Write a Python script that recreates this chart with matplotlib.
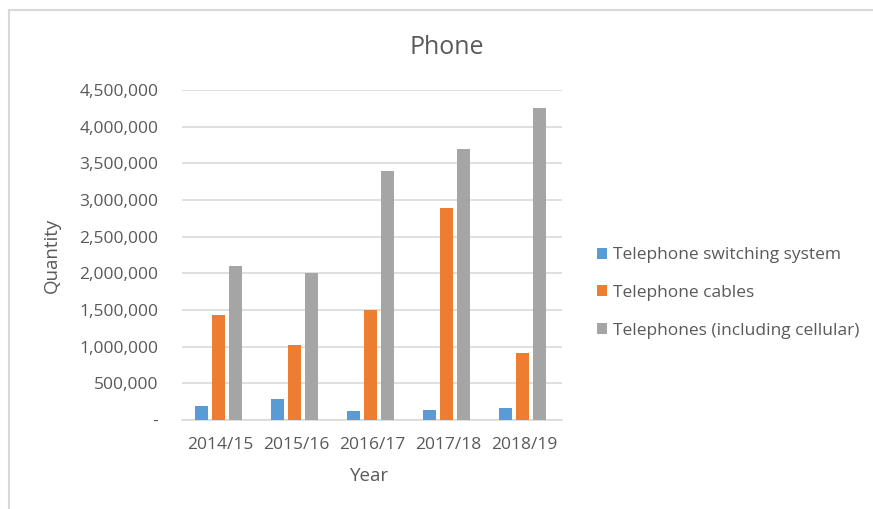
import matplotlib
matplotlib.use("Agg")
import matplotlib.pyplot as plt
from matplotlib.lines import Line2D
from matplotlib.ticker import FuncFormatter
import numpy as np

years = ["2014/15", "2015/16", "2016/17", "2017/18", "2018/19"]
switching = [190000, 290000, 120000, 130000, 160000]
cables = [1430000, 1020000, 1500000, 2890000, 920000]
telephones = [2100000, 2000000, 3400000, 3700000, 4260000]
series_names = ["Telephone switching system", "Telephone cables",
                "Telephones (including cellular)"]
colors = ["#5B9BD5", "#ED7D31", "#A5A5A5"]
y_ticks = np.arange(0, 4500001, 500000)

plt.rcParams["font.family"] = ["Open Sans", "DejaVu Sans"]
text_color = "#595959"
grid_color = "#D9D9D9"

W, H = 873, 509
fig = plt.figure(figsize=(W / 100, H / 100), dpi=100)
ax = fig.add_axes([182 / W, 1 - 420 / H, (562 - 182) / W, (420 - 90) / H])

x = np.arange(len(years))
width = 0.17
step = 0.225
for i, (vals, name, c) in enumerate(zip([switching, cables, telephones], series_names, colors)):
    ax.bar(x + (i - 1) * step - 0.02, vals, width, color=c, label=name, zorder=3)

ax.set_xlim(-0.5, len(years) - 0.5)
ax.set_ylim(0, 4500000)
ax.set_yticks(y_ticks)
ax.yaxis.set_major_formatter(FuncFormatter(lambda v, p: "-" if v == 0 else f"{int(v):,}"))
ax.set_xticks(x)
ax.set_xticklabels(years)
ax.grid(axis="y", color=grid_color, linewidth=1.2, zorder=0)
for s in ["top", "right", "left"]:
    ax.spines[s].set_visible(False)
ax.spines["bottom"].set_color(grid_color)
ax.spines["bottom"].set_linewidth(1.2)
ax.tick_params(axis="both", length=0, labelsize=12.5, colors=text_color)
ax.tick_params(axis="y", pad=17)
ax.tick_params(axis="x", pad=12)

fig.text(52 / W, 1 - 255 / H, "Quantity", rotation=90, ha="center", va="center",
         fontsize=13.5, color=text_color)
fig.text(370 / W, 1 - 476 / H, "Year", ha="center", va="center",
         fontsize=13.5, color=text_color)
fig.text(447 / W, 1 - 47 / H, "Phone", ha="center", va="center",
         fontsize=18, color=text_color)

fig.legend(loc="center left", bbox_to_anchor=(581 / W, 1 - 293 / H), frameon=False,
           fontsize=12.5, labelcolor=text_color, handlelength=0.6, handleheight=0.6,
           handletextpad=0.35, labelspacing=1.25)

# chart-area border (left and top edges only visible)
fig.add_artist(Line2D([9 / W, 9 / W], [0, 1 - 10 / H], color=grid_color, linewidth=1.5))
fig.add_artist(Line2D([9 / W, 1], [1 - 10 / H, 1 - 10 / H], color=grid_color, linewidth=1.5))

fig.savefig("out.png", dpi=100)
plt.close(fig)
